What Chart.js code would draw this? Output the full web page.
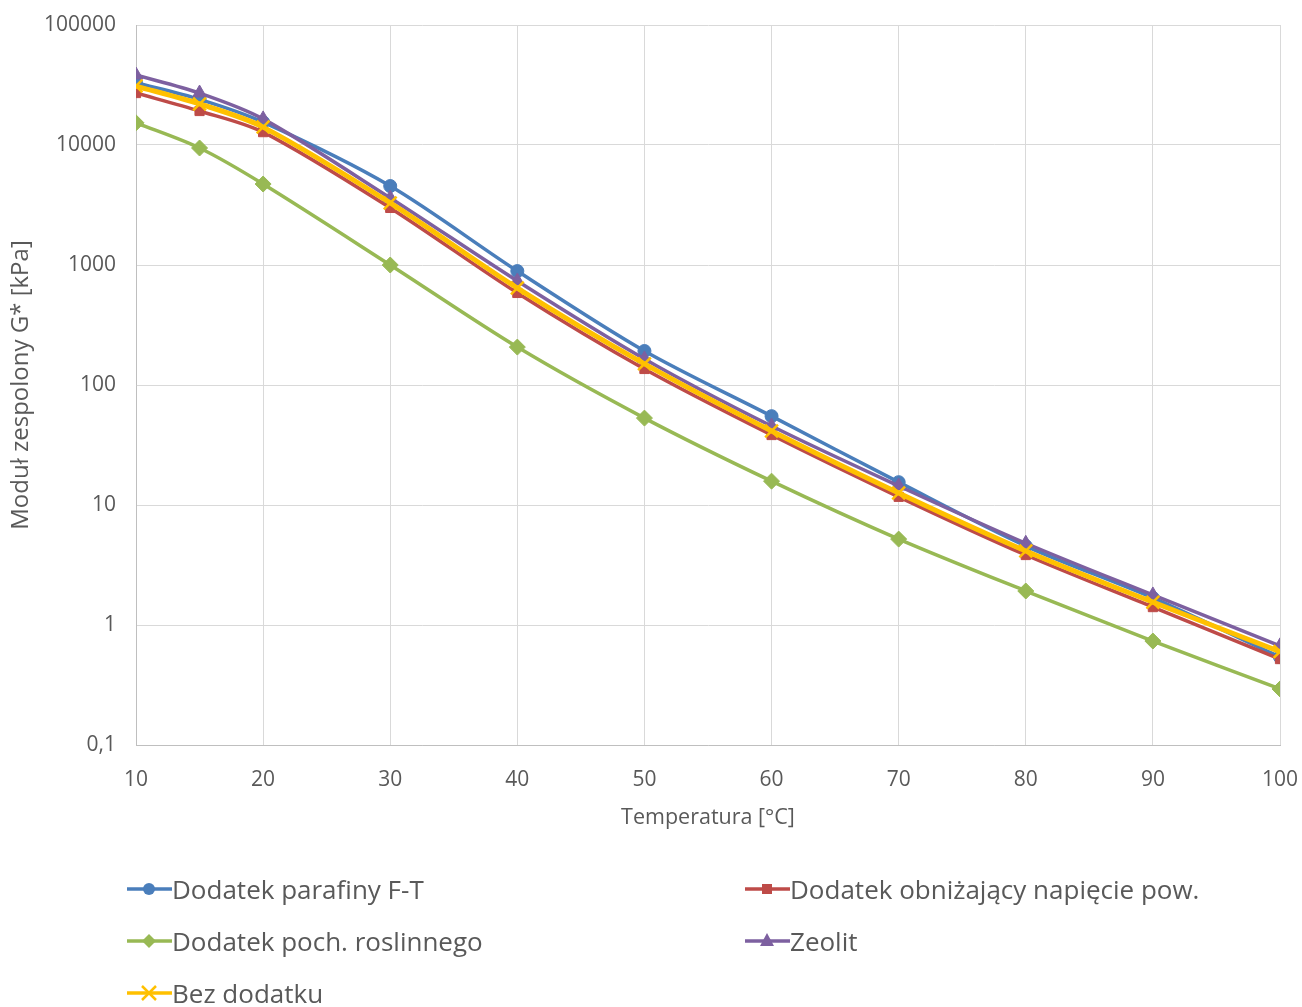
<!DOCTYPE html>
<html><head><meta charset="utf-8">
<script src="https://cdn.jsdelivr.net/npm/chart.js@4.4.1/dist/chart.umd.min.js"></script>
<style>
html,body{margin:0;padding:0;background:#fff;}
#wrap{position:relative;width:1302px;height:1007px;overflow:hidden}
#c{position:absolute;left:0;top:0;}
.leg{position:absolute;font-family:'Open Sans',sans-serif;font-size:26px;color:#595959;display:flex;align-items:center;height:30px;white-space:nowrap}
.leg svg{display:block;margin-right:0px}
</style></head>
<body><div id="wrap"><canvas id="c" width="1302" height="1007"></canvas><div id="legend"></div></div>
<script>
const temperatures = [10, 15, 20, 30, 40, 50, 60, 70, 80, 90, 100];
const parafinyFT   = [33000, 24000, 15500, 4550, 890, 192, 55, 15.5, 4.55, 1.68, 0.54];
const obnizajacy   = [27100, 19200, 12800, 2990, 585, 136, 38.3, 11.7, 3.83, 1.41, 0.52];
const roslinnego   = [15300, 9440, 4730, 1000, 207, 53, 15.8, 5.2, 1.92, 0.735, 0.293];
const zeolit       = [38300, 27100, 16500, 3620, 736, 165, 45.5, 14.4, 4.8, 1.78, 0.67];
const bezDodatku   = [31000, 22000, 14100, 3290, 643, 150, 41.4, 12.6, 4.14, 1.55, 0.6];
const yTicks = [0.1, 1, 10, 100, 1000, 10000, 100000];
const seriesNames = ['Dodatek parafiny F-T', 'Dodatek obniżający napięcie pow.', 'Dodatek poch. roslinnego', 'Zeolit', 'Bez dodatku'];

const pts = arr => arr.map((v, i) => ({x: temperatures[i], y: v}));
const styles = [
  {color:'#4A7EBB', marker:'circle', r:6.5, lw:3.5, order:5},
  {color:'#BE4B48', marker:'rect', r:6.5, lw:3.5, order:4},
  {color:'#98B954', marker:'rectRot', r:8, lw:3.5, order:3},
  {color:'#7D60A0', marker:'triangle', r:8, lw:3.5, order:2},
  {color:'#FFC000', marker:'crossRot', r:9, lw:5, order:1}
];
const allData = [parafinyFT, obnizajacy, roslinnego, zeolit, bezDodatku];

const datasets = allData.map((d, i) => ({
  label: seriesNames[i],
  data: pts(d),
  borderColor: styles[i].color,
  backgroundColor: styles[i].color,
  pointBackgroundColor: styles[i].color,
  pointBorderColor: styles[i].color,
  pointBorderWidth: styles[i].marker === 'crossRot' ? 2.5 : 1,
  pointStyle: styles[i].marker,
  pointRadius: styles[i].r,
  borderWidth: styles[i].lw,
  tension: 0.3,
  order: styles[i].order,
  fill: false
}));

const txt = '#595959';
new Chart(document.getElementById('c'), {
  type: 'line',
  data: { datasets },
  options: {
    responsive: false,
    animation: false,
    layout: { padding: { top: 25, right: 22, bottom: 167, left: 0 } },
    plugins: { legend: { display: false }, tooltip: { enabled: false } },
    scales: {
      x: {
        type: 'linear', min: 10, max: 100,
        ticks: { stepSize: 10, color: txt, font: { family: 'Open Sans', size: 21 }, padding: 22, maxRotation: 0 },
        grid: { color: '#D9D9D9', drawTicks: false, lineWidth: 1 },
        border: { color: '#BFBFBF' },
        title: { display: true, text: 'Temperatura [°C]', color: txt, font: { family: 'Open Sans', size: 21.5 }, padding: { top: 0, bottom: 9 } },
        afterFit: s => { s.height = 95; s.paddingLeft = 0; s.paddingRight = 0; }
      },
      y: {
        type: 'logarithmic', min: 0.1, max: 100000,
        afterBuildTicks: s => { s.ticks = yTicks.map(v => ({ value: v })); },
        ticks: { color: txt, font: { family: 'Open Sans', size: 21 }, padding: 20,
          callback: v => v < 1 ? String(v).replace('.', ',') : String(v) },
        grid: { color: '#D9D9D9', drawTicks: false, lineWidth: 1 },
        border: { color: '#BFBFBF' },
        title: { display: true, text: 'Moduł zespolony G* [kPa]', color: txt, font: { family: 'Open Sans', size: 24 }, padding: { top: 7, bottom: 7 } },
        afterFit: s => { s.width = 136; s.paddingTop = 0; s.paddingBottom = 0; }
      }
    }
  }
});

// HTML legend (two columns)
function markerSvg(st) {
  const c = st.color, cx = 22, cy = 15;
  let m = '';
  if (st.marker === 'circle') m = `<circle cx="${cx}" cy="${cy}" r="6" fill="${c}"/>`;
  else if (st.marker === 'rect') m = `<rect x="${cx-5}" y="${cy-5}" width="10" height="10" fill="${c}"/>`;
  else if (st.marker === 'rectRot') m = `<polygon points="${cx},${cy-7} ${cx+7},${cy} ${cx},${cy+7} ${cx-7},${cy}" fill="${c}"/>`;
  else if (st.marker === 'triangle') m = `<polygon points="${cx},${cy-8} ${cx+7},${cy+5} ${cx-7},${cy+5}" fill="${c}"/>`;
  else m = `<path d="M${cx-7} ${cy-7} L${cx+7} ${cy+7} M${cx+7} ${cy-7} L${cx-7} ${cy+7}" stroke="${c}" stroke-width="2.5"/>`;
  return `<svg width="45" height="30"><line x1="0" y1="${cy}" x2="45" y2="${cy}" stroke="${c}" stroke-width="3.5"/>${m}</svg>`;
}
const legPos = [[127, 889], [745, 889], [127, 941], [745, 941], [127, 993]];
const legend = document.getElementById('legend');
seriesNames.forEach((n, i) => {
  const d = document.createElement('div');
  d.className = 'leg';
  d.style.left = legPos[i][0] + 'px';
  d.style.top = (legPos[i][1] - 15) + 'px';
  d.innerHTML = markerSvg(styles[i]) + '<span>' + n + '</span>';
  legend.appendChild(d);
});
</script>
</body></html>
